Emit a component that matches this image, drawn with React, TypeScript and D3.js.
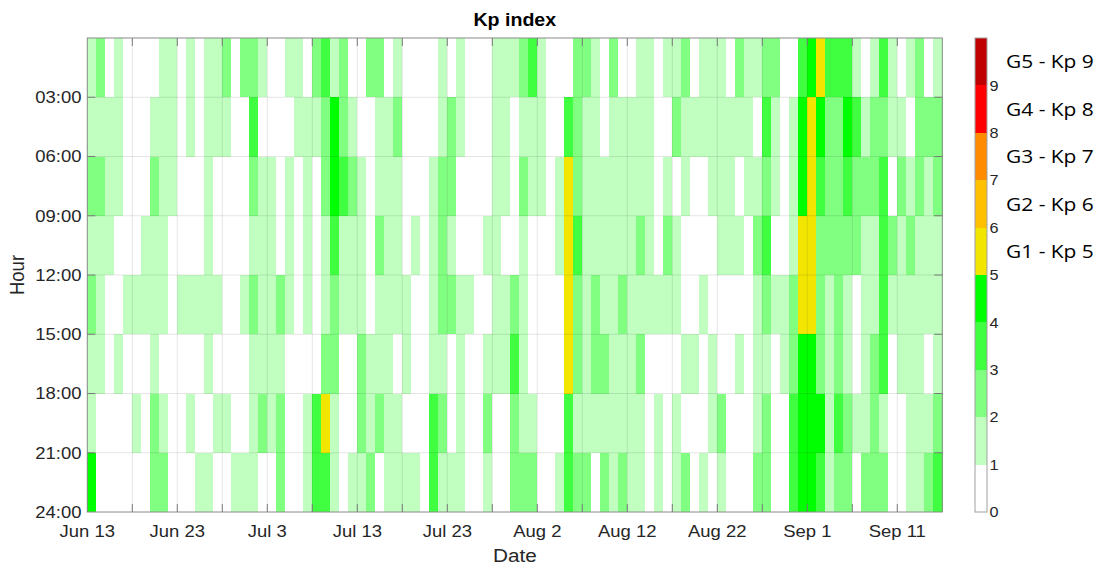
import React from 'react';
import * as d3 from 'd3';

// ---------- data ----------
const startDate = new Date(Date.UTC(2025, 5, 13)); // Jun 13
const nDays = 95;
const hourSlots = [0, 3, 6, 9, 12, 15, 18, 21];

// Kp level (floor of Kp) per day, one array per 3-hour slot
const kp00 = [1,2,0,1,0,0,0,0,1,1,0,1,0,1, 1,2,0,2,2,1,0,0,1,1,0,2,3, 1,2,0,0,2,2,0,1,0,0,0,0,1, 0,1,0,0,0,1,1,1,2,3,1,0,0,0, 2,2,1,0,2,0,0,1,1,0,1,1,2, 0,1,1,1,0,2,1,1,2,2,0,0,3,4, 5,3,3,3,1,0,1,3,1,0,1,2,0,1];
const kp03 = [1,1,1,1,0,0,0,1,1,1,0,1,0,1, 1,1,0,0,3,0,0,0,0,1,1,1,2, 4,2,1,0,0,1,1,2,0,0,0,0,1, 2,1,0,0,0,1,1,0,1,1,1,0,0,3, 2,1,1,0,1,1,1,1,1,0,0,2,1, 1,1,1,1,1,1,1,0,3,1,0,1,4,5, 4,2,2,4,3,1,2,2,1,1,0,2,2,2];
const kp06 = [2,2,1,1,0,0,0,2,1,1,0,0,0,1, 0,0,0,0,2,1,1,0,1,0,1,0,2, 4,3,2,1,0,1,1,1,0,0,0,1,2, 2,0,0,0,0,1,1,0,2,1,1,0,1,5, 2,1,1,1,1,1,1,1,1,0,1,0,1, 0,0,1,1,1,0,1,1,2,1,0,1,4,5, 3,2,2,3,2,2,2,3,0,2,1,2,1,2];
const kp09 = [1,1,1,0,0,0,1,1,1,0,0,0,0,1, 0,0,0,0,1,1,1,0,1,0,1,0,1, 3,1,1,1,0,2,1,1,0,1,0,1,2, 1,0,0,0,1,1,0,0,1,0,0,0,1,5, 3,1,1,1,1,1,1,2,1,0,2,1,0, 0,0,0,1,1,1,0,2,3,0,0,1,5,5, 2,2,2,2,2,1,1,3,2,1,2,1,1,1];
const kp12 = [2,1,0,0,1,1,1,1,1,0,1,1,1,1, 1,0,0,1,2,1,1,2,1,0,1,0,1, 2,1,1,1,0,1,1,1,1,0,0,1,2, 2,1,1,0,0,1,1,2,1,0,0,0,0,5, 2,1,2,1,1,2,1,1,1,1,1,1,0, 0,1,0,0,0,0,0,1,2,1,1,2,5,5, 2,1,2,1,0,1,1,3,1,1,1,1,1,1];
const kp15 = [1,1,0,1,0,0,0,1,0,0,0,0,0,1, 0,0,0,0,1,1,1,1,0,0,0,0,2, 2,0,0,2,1,1,1,0,1,0,0,1,1, 0,1,0,0,1,1,1,3,1,0,0,0,0,5, 2,1,2,2,1,1,1,2,0,0,0,0,1, 1,0,1,0,0,1,0,1,1,0,1,2,4,4, 2,1,2,1,0,1,2,3,0,1,1,1,0,1];
const kp18 = [1,0,0,0,0,1,0,2,1,0,0,1,0,0, 1,1,0,0,1,2,1,2,0,0,1,3,5, 1,0,0,2,1,2,1,1,0,0,0,3,2, 0,1,0,0,2,0,0,2,1,1,0,0,0,3, 1,1,1,1,1,1,1,1,0,1,0,1,0, 0,0,1,2,0,0,0,1,2,0,0,3,4,4, 4,1,3,2,1,1,2,1,0,0,1,1,1,2];
const kp21 = [4,0,0,0,0,0,0,2,2,0,0,0,1,1, 0,0,1,1,1,0,0,2,0,0,1,3,3, 1,0,1,1,2,0,1,1,1,1,0,3,1, 1,1,0,0,1,0,0,2,2,2,0,0,1,3, 2,2,0,2,1,2,1,1,0,1,0,1,2, 0,1,0,1,0,0,0,2,2,0,0,3,4,4, 3,1,2,2,0,2,2,2,0,0,1,1,2,3];
const kpRows = [kp00, kp03, kp06, kp09, kp12, kp15, kp18, kp21];

const kpColors = ['#ffffff', '#c0ffc0', '#80ff80', '#40ff40', '#00ff00', '#f2e600', '#ffc000', '#ff8c00', '#ff0000', '#c00000'];
const kpThresholds = [1, 2, 3, 4, 5, 6, 7, 8, 9];
const colorbarTicks = [0, 1, 2, 3, 4, 5, 6, 7, 8, 9];
const hourTicks = [3, 6, 9, 12, 15, 18, 21, 24];
const hourTickLabels = ['03:00', '06:00', '09:00', '12:00', '15:00', '18:00', '21:00', '24:00'];
const stormLevels = [5, 6, 7, 8, 9];
const stormLabels = ['G1 - Kp 5', 'G2 - Kp 6', 'G3 - Kp 7', 'G4 - Kp 8', 'G5 - Kp 9'];

// ---------- layout ----------
const W = 1104, H = 568;
const L = 87.3, R = 942.3, T = 38, B = 512;
const CB_L = 975, CB_R = 987;
const SX = 1.12;
const FONT = '"Liberation Sans", Arial, Helvetica, sans-serif';
const TXT = '#262626';

const DAY = 86400000;
const endDate = new Date(startDate.getTime() + nDays * DAY);
const x = d3.scaleUtc().domain([startDate, endDate]).range([L, R]);
const y = d3.scaleLinear().domain([0, 24]).range([T, B]);
const color = d3.scaleThreshold<number, string>().domain(kpThresholds).range(kpColors);
const cby = d3.scaleLinear().domain([0, 10]).range([B, T]);

const minorDays = d3.range(0, nDays, 5).map(i => new Date(startDate.getTime() + i * DAY)).filter(d => d > startDate);
const labelDays = d3.range(0, nDays, 10).map(i => new Date(startDate.getTime() + i * DAY));
const fmt = d3.utcFormat('%b %-d');

function Txt(props: any) {
  const { x: tx, y: ty, rotate, children, ...rest } = props;
  return (
    <text transform={`translate(${tx},${ty}) scale(${SX},1)${rotate ? ` rotate(${rotate})` : ''}`}
      fontFamily={FONT} fill={TXT} {...rest}>{children}</text>
  );
}

export default function App() {
  const cells: any[] = [];
  kpRows.forEach((row, r) => {
    row.forEach((v, d) => {
      const d0 = new Date(startDate.getTime() + d * DAY);
      const d1 = new Date(startDate.getTime() + (d + 1) * DAY);
      const x0 = x(d0), x1 = x(d1);
      const y0 = y(hourSlots[r]), y1 = y(hourSlots[r] + 3);
      cells.push(<rect key={`${r}-${d}`} x={x0} y={y0} width={x1 - x0 + 0.3} height={y1 - y0 + 0.3} fill={color(v + 0.5)} />);
    });
  });
  const tickLen = 8;
  return (
    <svg width={W} height={H} style={{ position: 'absolute', left: 0, top: 0, background: '#fff' }}>
      <rect x={0} y={0} width={W} height={H} fill="#fff" />
      <g shapeRendering="crispEdges">{cells}</g>
      {/* grid */}
      <g stroke="#262626" strokeOpacity={0.12} strokeWidth={1}>
        {minorDays.map((d, i) => <line key={'gx' + i} x1={x(d)} x2={x(d)} y1={T} y2={B} />)}
        {hourTicks.slice(0, -1).map((h, i) => <line key={'gy' + i} x1={L} x2={R} y1={y(h)} y2={y(h)} />)}
      </g>
      {/* box & ticks */}
      <rect x={L} y={T} width={R - L} height={B - T} fill="none" stroke="#8a8a8a" strokeWidth={1} />
      <g stroke="#7a7a7a" strokeWidth={1}>
        {minorDays.map((d, i) => (
          <g key={'tx' + i}>
            <line x1={x(d)} x2={x(d)} y1={B} y2={B - tickLen} />
            <line x1={x(d)} x2={x(d)} y1={T} y2={T + tickLen} />
          </g>
        ))}
        {hourTicks.slice(0, -1).map((h, i) => (
          <g key={'ty' + i}>
            <line x1={L} x2={L + tickLen} y1={y(h)} y2={y(h)} />
            <line x1={R} x2={R - tickLen} y1={y(h)} y2={y(h)} />
          </g>
        ))}
      </g>
      {/* y tick labels */}
      {hourTicks.map((h, i) => (
        <Txt key={'yl' + i} x={81.5} y={y(h)} dy="0.36em" textAnchor="end" fontSize={16.5}>{hourTickLabels[i]}</Txt>
      ))}
      {/* x tick labels */}
      {labelDays.map((d, i) => (
        <Txt key={'xl' + i} x={x(d)} y={537} textAnchor="middle" fontSize={16.5}>{fmt(d)}</Txt>
      ))}
      <Txt x={(L + R) / 2} y={562} textAnchor="middle" fontSize={18.5}>Date</Txt>
      <Txt x={24} y={(T + B) / 2} rotate={-90} textAnchor="middle" fontSize={18.5}>Hour</Txt>
      <Txt x={(L + R) / 2} y={26} textAnchor="middle" fontSize={17.5} fontWeight="bold" fill="#000">Kp index</Txt>
      {/* colorbar */}
      <g shapeRendering="crispEdges">
        {kpColors.map((c, i) => (
          <rect key={'cb' + i} x={CB_L} y={cby(i + 1)} width={CB_R - CB_L} height={cby(i) - cby(i + 1)} fill={c} />
        ))}
      </g>
      <rect x={CB_L} y={T} width={CB_R - CB_L} height={B - T} fill="none" stroke="#a0a0a0" strokeWidth={1} />
      {colorbarTicks.map(t => (
        <Txt key={'cbt' + t} x={989.5} y={cby(t)} dy="0.36em" textAnchor="start" fontSize={14.5}>{t}</Txt>
      ))}
      {stormLevels.map((lv, i) => (
        <Txt key={'st' + i} x={1006} y={cby(lv + 0.5)} dy="0.36em" textAnchor="start" fontSize={18.7}
          fontFamily='"Open Sans", "Noto Sans", sans-serif' fill="#000">{stormLabels[i]}</Txt>
      ))}
    </svg>
  );
}
